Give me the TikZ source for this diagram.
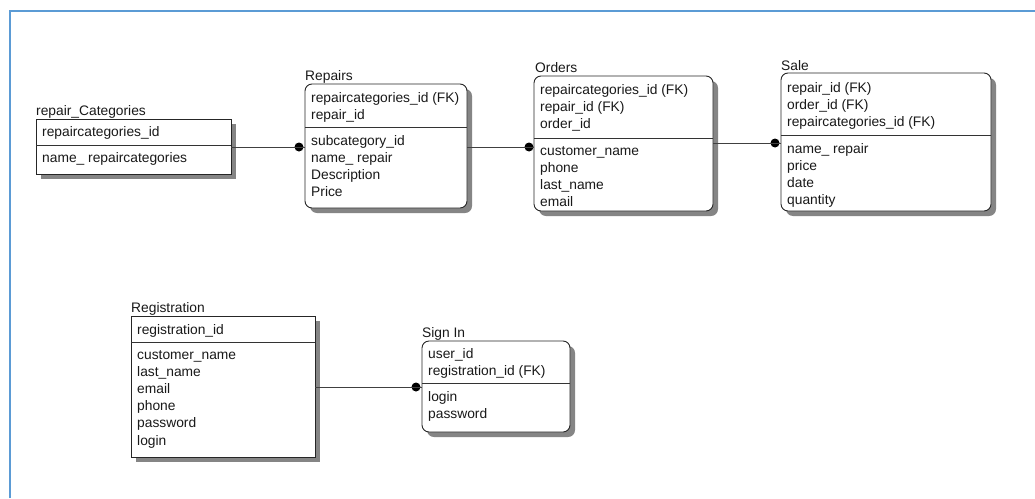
\documentclass[tikz,border=0pt]{standalone}
\usepackage{fontspec}
\setmainfont{Liberation Sans}
\newcommand\fsz{\fontsize{13.8}{17}\selectfont}
\begin{document}
\begin{tikzpicture}[x=1pt,y=-1pt,
  box/.style={draw=black!85, line width=0.9pt, fill=white, inner sep=0pt, outer sep=0pt, anchor=north west},
  roundbox/.style={box, rounded corners=7pt},
  boxshadow/.style={fill=black!48},
  fld/.style={font=\fsz, anchor=base west, inner sep=0pt, text=black!90},
  rel/.style={draw=black!75, line width=1pt},
  pin/.style={circle, fill=black, inner sep=0pt, minimum size=9pt},
  divline/.style={draw=black!80, line width=0.9pt},
  frame/.style={draw={rgb,255:red,91;green,155;blue,213}, line width=2pt}]
\useasboundingbox (0,0) rectangle (1035,498);
\fill[white] (0,0) rectangle (1035,498);
% window frame
\draw[frame] (10,498) -- (10,11) -- (1035,11);

% ---------- repair_Categories ----------
\fill[boxshadow] (41,124) rectangle (236,179);
\node[box, minimum width=195pt, minimum height=55pt] (cat) at (36,119) {};
\draw[divline] (cat.west |- 0,145) -- (cat.east |- 0,145);
\node[fld] (cat-t) at (36,115) {repair\_Categories};
\node[fld] (cat-k0) at (42,136) {repaircategories\_id};
\node[fld] (cat-a0) at (42,162) {name\_ repaircategories};

% ---------- Repairs ----------
\fill[boxshadow, rounded corners=7pt] (310,89) rectangle (472,213);
\node[roundbox, minimum width=162pt, minimum height=124pt] (rep) at (305,84) {};
\draw[divline] (rep.west |- 0,127) -- (rep.east |- 0,127);
\node[fld] (rep-t) at (305,80) {Repairs};
\foreach \t [count=\i from 0] in {repaircategories\_id (FK), repair\_id}
  \node[fld] (rep-k\i) at (311,{102+17*\i}) {\t};
\foreach \t [count=\i from 0] in {subcategory\_id, name\_ repair, Description, Price}
  \node[fld] (rep-a\i) at (311,{145+17*\i}) {\t};

% ---------- Orders ----------
\fill[boxshadow, rounded corners=7pt] (539,81) rectangle (718,216);
\node[roundbox, minimum width=179pt, minimum height=135pt] (ord) at (534,76) {};
\draw[divline] (ord.west |- 0,138) -- (ord.east |- 0,138);
\node[fld] (ord-t) at (535,72) {Orders};
\foreach \t [count=\i from 0] in {repaircategories\_id (FK), repair\_id (FK), order\_id}
  \node[fld] (ord-k\i) at (540,{94+17*\i}) {\t};
\foreach \t [count=\i from 0] in {customer\_name, phone, last\_name, email}
  \node[fld] (ord-a\i) at (540,{155+17*\i}) {\t};

% ---------- Sale ----------
\fill[boxshadow, rounded corners=7pt] (786,78) rectangle (996,216);
\node[roundbox, minimum width=210pt, minimum height=138pt] (sale) at (781,73) {};
\draw[divline] (sale.west |- 0,135) -- (sale.east |- 0,135);
\node[fld] (sale-t) at (781,70) {Sale};
\foreach \t [count=\i from 0] in {repair\_id (FK), order\_id (FK), repaircategories\_id (FK)}
  \node[fld] (sale-k\i) at (787,{92+17*\i}) {\t};
\foreach \t [count=\i from 0] in {name\_ repair, price, date, quantity}
  \node[fld] (sale-a\i) at (787,{153+17*\i}) {\t};

% ---------- Registration ----------
\fill[boxshadow] (136,321) rectangle (320,462);
\node[box, minimum width=184pt, minimum height=141pt] (reg) at (131,316) {};
\draw[divline] (reg.west |- 0,342) -- (reg.east |- 0,342);
\node[fld] (reg-t) at (131,312) {Registration};
\node[fld] (reg-k0) at (137,334) {registration\_id};
\foreach \t [count=\i from 0] in {customer\_name, last\_name, email, phone, password, login}
  \node[fld] (reg-a\i) at (137,{359+17.2*\i}) {\t};

% ---------- Sign In ----------
\fill[boxshadow, rounded corners=7pt] (427,346) rectangle (575,437);
\node[roundbox, minimum width=148pt, minimum height=91pt] (sign) at (422,341) {};
\draw[divline] (sign.west |- 0,383) -- (sign.east |- 0,383);
\node[fld] (sign-t) at (422,337) {Sign In};
\foreach \t [count=\i from 0] in {user\_id, registration\_id (FK)}
  \node[fld] (sign-k\i) at (428,{358+17*\i}) {\t};
\foreach \t [count=\i from 0] in {login, password}
  \node[fld] (sign-a\i) at (428,{401+17*\i}) {\t};

% ---------- relationships ----------
\node[pin] (p1) at (299,147) {};
\node[pin] (p2) at (529,147) {};
\node[pin] (p3) at (775,143) {};
\node[pin] (p4) at (416,387) {};
\draw[rel] (cat.east |- p1) -- (rep.west |- p1);
\draw[rel] (rep.east |- p2) -- (ord.west |- p2);
\draw[rel] (ord.east |- p3) -- (sale.west |- p3);
\draw[rel] (reg.east |- p4) -- (sign.west |- p4);
\end{tikzpicture}
\end{document}
